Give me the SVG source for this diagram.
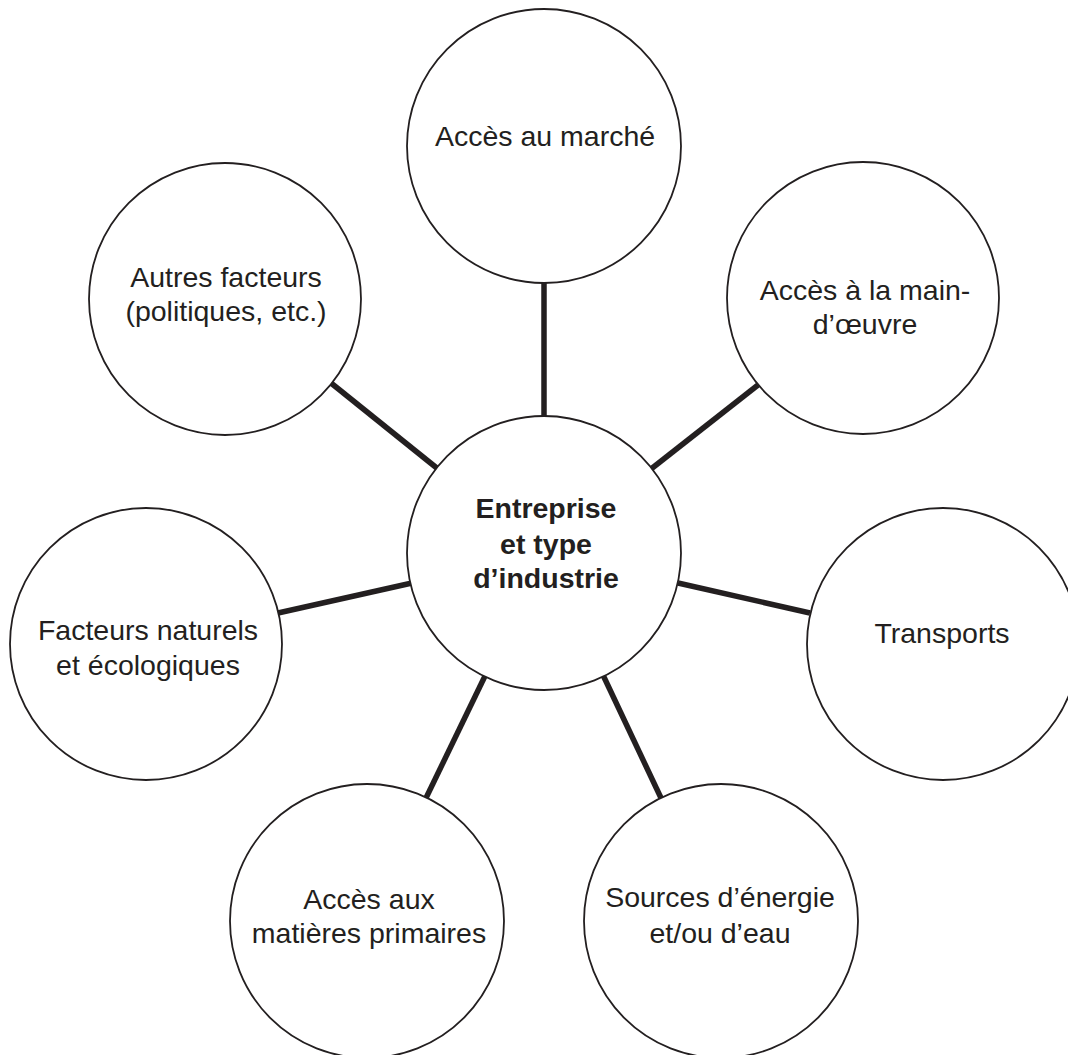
<svg xmlns="http://www.w3.org/2000/svg" width="1068" height="1055" viewBox="0 0 1068 1055">
<style>
.c{fill:#fff;stroke:#231f20;stroke-width:1.8}
.t{font-family:"Liberation Sans",Arial,sans-serif;font-size:28.5px;fill:#231f20;text-anchor:middle}
.b{font-weight:bold}
.l{stroke:#231f20;stroke-width:5.5;stroke-linecap:butt}
</style>
<rect width="1068" height="1055" fill="#fff"/>
<g id="connectors">
<line class="l" x1="544" y1="283" x2="544" y2="417"/>
<line class="l" x1="331" y1="383" x2="438" y2="469"/>
<line class="l" x1="758" y1="385" x2="651" y2="469"/>
<line class="l" x1="278" y1="613" x2="412" y2="583"/>
<line class="l" x1="810" y1="613" x2="678" y2="583"/>
<line class="l" x1="426" y1="798" x2="485" y2="676"/>
<line class="l" x1="661" y1="798" x2="603" y2="675"/>
</g>
<g id="center">
<circle class="c" cx="544" cy="553" r="137"/>
<text class="t b" x="546" y="518">Entreprise</text>
<text class="t b" x="546" y="554">et type</text>
<text class="t b" x="546" y="588">d’industrie</text>
</g>
<g id="marche">
<circle class="c" cx="544" cy="146" r="137"/>
<text class="t" x="545" y="146">Accès au marché</text>
</g>
<g id="autres">
<circle class="c" cx="225" cy="299" r="136"/>
<text class="t" x="226" y="287">Autres facteurs</text>
<text class="t" x="226" y="321">(politiques, etc.)</text>
</g>
<g id="main-oeuvre">
<circle class="c" cx="863" cy="298" r="136"/>
<text class="t" x="865" y="300">Accès à la main-</text>
<text class="t" x="865" y="334">d’œuvre</text>
</g>
<g id="naturels">
<circle class="c" cx="146" cy="644" r="136"/>
<text class="t" x="148" y="640">Facteurs naturels</text>
<text class="t" x="148" y="675">et écologiques</text>
</g>
<g id="transports">
<circle class="c" cx="943" cy="644" r="136"/>
<text class="t" x="942" y="643">Transports</text>
</g>
<g id="matieres">
<circle class="c" cx="367" cy="921" r="137"/>
<text class="t" x="369" y="909">Accès aux</text>
<text class="t" x="369" y="943">matières primaires</text>
</g>
<g id="energie">
<circle class="c" cx="721" cy="921" r="137"/>
<text class="t" x="720" y="907">Sources d’énergie</text>
<text class="t" x="720" y="943">et/ou d’eau</text>
</g>
</svg>
